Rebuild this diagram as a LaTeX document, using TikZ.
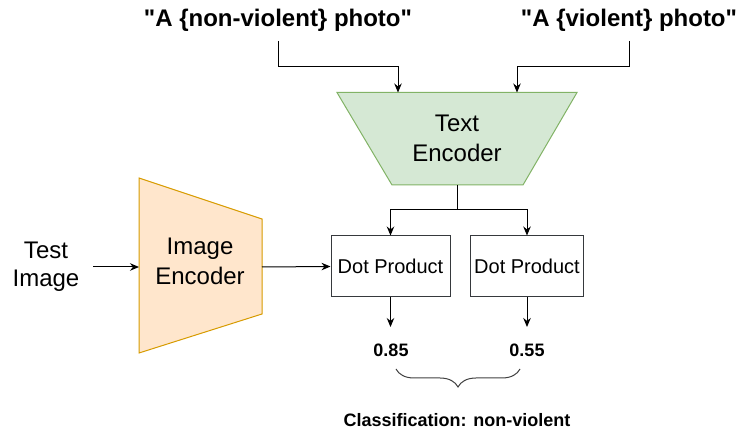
\documentclass[tikz,border=0pt]{standalone}
\usepackage{fontspec}
\setmainfont{Liberation Sans}[Ligatures=TeXOff]
\usetikzlibrary{arrows.meta,decorations.pathreplacing}
\definecolor{greenfill}{HTML}{D5E8D4}
\definecolor{greenline}{HTML}{82B366}
\definecolor{orangefill}{HTML}{FFE6CC}
\definecolor{orangeline}{HTML}{D79B00}
\definecolor{boxline}{HTML}{36393D}
\begin{document}
\begin{tikzpicture}[x=1pt,y=-1pt,
  conn/.style={line width=1pt, -{Stealth[length=9pt,width=7.5pt]}},
  plainline/.style={line width=1pt},
  lbl/.style={font=\fontsize{24}{30}\selectfont, align=center, inner sep=0pt},
  boldlbl/.style={font=\fontsize{24}{30}\selectfont\bfseries, inner sep=0pt},
  dotbox/.style={draw=boxline, line width=1pt, minimum height=61pt, inner sep=0pt, font=\fontsize{20}{24}\selectfont},
  score/.style={font=\fontsize{18}{22}\selectfont\bfseries, inner sep=0pt},
  encgreen/.style={fill=greenfill, draw=greenline, line width=1pt},
  encorange/.style={fill=orangefill, draw=orangeline, line width=1pt}]
\useasboundingbox (0,0) rectangle (748,443);

% top labels
\node[boldlbl, anchor=base] (pa) at (278,27) {"A \{non-violent\} photo"};
\node[boldlbl, anchor=base] (pb) at (629,27) {"A \{violent\} photo"};
\coordinate (pas) at (278,41);
\coordinate (pbs) at (629,41);

% text encoder
\draw[encgreen] (337,92.5) coordinate (teTL) -- (577,92.5) coordinate (teTR)
   -- (523,185) -- (392,185) -- cycle;
\node[lbl] (te) at (457,138.5) {Text\\Encoder};
\coordinate (teIn1) at (398,92.5);
\coordinate (teIn2) at (517,92.5);
\coordinate (teOut) at (457,185);

% image encoder
\draw[encorange] (139,178) -- (262,219) -- (262,314) -- (139,353) -- cycle;
\node[lbl] (ie) at (200,261.5) {Image\\Encoder};
\coordinate (ieIn) at (139,267);
\coordinate (ieOut) at (262,267);

% test image
\node[lbl, font=\fontsize{24}{28}\selectfont] (ti) at (46,267) {Test\\Image};
\coordinate (tiOut) at (93,267);

% dot products
\node[dotbox, minimum width=119pt] (d1) at (390.5,266.5) {Dot Product};
\node[dotbox, minimum width=112.5pt] (d2) at (527,266.5) {Dot Product};

% scores
\node[score] (s1) at (391,350) {0.85};
\node[score] (s2) at (527,350) {0.55};
\coordinate (s1t) at (390.5,327);
\coordinate (s2t) at (527,327);

% classification
\node[score] (cls) at (457,420.5) {Classification: non-violent};

% connectors
\draw[conn] (pas) |- (teIn1 |- 0,67) -- (teIn1);
\draw[conn] (pbs) |- (teIn2 |- 0,67) -- (teIn2);
\draw[plainline] (teOut) -- (teOut |- 0,210) coordinate (split);
\draw[conn] (split) -| (d1.north);
\draw[conn] (split) -| (d2.north);
\draw[conn] (tiOut) -- (ieIn);
\draw[conn] (ieOut) -- (d1.west);
\draw[conn] (d1.south) -- (s1t);
\draw[conn] (d2.south) -- (s2t);

% brace
\coordinate (bl) at (396,369);
\coordinate (br) at (520,369);
\draw[line width=1pt, black!75, decorate, decoration={brace, mirror, amplitude=18pt}] (bl) -- (br);
\end{tikzpicture}
\end{document}
